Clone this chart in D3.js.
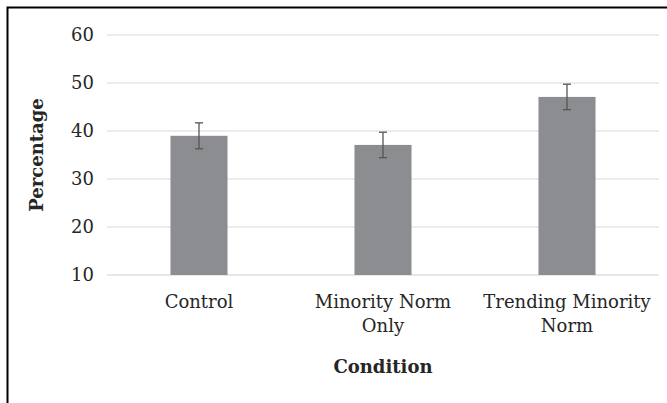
<!DOCTYPE html>
<html><head><meta charset="utf-8">
<script src="https://cdn.jsdelivr.net/npm/d3@7"></script>
<style>body{margin:0;background:#fff}svg{display:block}text{font-family:"DejaVu Serif",serif;fill:#262626}</style>
</head><body><svg id="c" width="667" height="403"></svg>
<script>
const categories = [["Control"], ["Minority Norm", "Only"], ["Trending Minority", "Norm"]];
const values = [39.0, 37.1, 47.1];
const errors = [2.7, 2.65, 2.65];
const yTicks = [10, 20, 30, 40, 50, 60];
const yLabel = "Percentage";
const xLabel = "Condition";

const svg = d3.select("#c");
const m = {left: 107, right: 8, top: 35, bottom: 128};
const W = 667, H = 403;
const x = d3.scaleBand().domain(d3.range(categories.length)).range([m.left, W - m.right]).paddingInner(0.69).paddingOuter(0.345);
const y = d3.scaleLinear().domain([10, 60]).range([H - m.bottom, m.top]);

// border
svg.append("path").attr("d", `M7.5,${H}V7.5H${W}`).attr("fill","none").attr("stroke","#000").attr("stroke-width",2);

// grid
svg.append("g").selectAll("line").data(yTicks).join("line")
  .attr("x1", m.left).attr("x2", W - m.right)
  .attr("y1", d => y(d)).attr("y2", d => y(d))
  .attr("stroke", d => d === 10 ? "#d0d0d0" : "#d9d9d9").attr("stroke-width", 1.2);

const yAxis = svg.append("g").attr("transform", `translate(${m.left},0)`)
  .call(d3.axisLeft(y).tickValues(yTicks).tickSize(0).tickPadding(13));
yAxis.select(".domain").remove();
yAxis.selectAll("text").attr("font-size", 18).attr("font-family", "DejaVu Serif").attr("fill", "#262626");

// bars
svg.append("g").selectAll("rect").data(values).join("rect")
  .attr("x", (d,i) => x(i)).attr("width", x.bandwidth())
  .attr("y", d => y(d)).attr("height", d => y(10) - y(d))
  .attr("fill", "#8c8d91");

// error bars
const eb = svg.append("g").attr("stroke", "#555").attr("stroke-width", 1.3);
values.forEach((v, i) => {
  const cx = x(i) + x.bandwidth()/2;
  eb.append("line").attr("x1", cx).attr("x2", cx).attr("y1", y(v + errors[i])).attr("y2", y(v - errors[i]));
  [v + errors[i], v - errors[i]].forEach(e => eb.append("line").attr("x1", cx - 4).attr("x2", cx + 4).attr("y1", y(e)).attr("y2", y(e)));
});

// x labels
categories.forEach((lines, i) => {
  const cx = x(i) + x.bandwidth()/2;
  const t = svg.append("text").attr("text-anchor", "middle").attr("font-size", 18);
  lines.forEach((l, j) => t.append("tspan").attr("x", cx).attr("y", 308 + j*24).text(l));
});

svg.append("text").attr("x", (m.left + W - m.right)/2).attr("y", 373).attr("text-anchor","middle")
  .attr("font-size", 18).attr("font-weight","bold").text(xLabel);
svg.append("text").attr("transform", `translate(43,${(y(10)+y(60))/2}) rotate(-90)`).attr("text-anchor","middle")
  .attr("font-size", 18).attr("font-weight","bold").text(yLabel);
</script></body></html>
